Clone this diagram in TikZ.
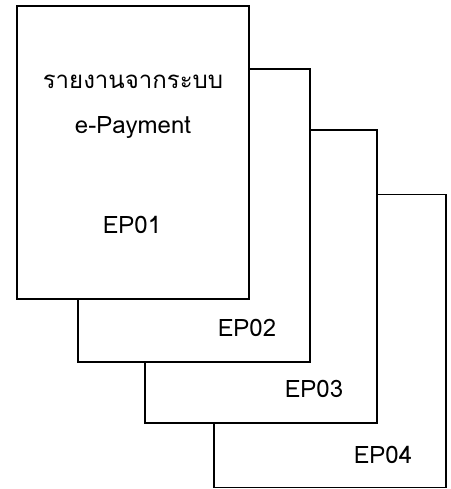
\documentclass[tikz,border=0pt]{standalone}
\usepackage{fontspec}
\setmainfont{Loma}[Script=Thai]
\usetikzlibrary{positioning}

\tikzset{
  page/.style={draw, fill=white, line width=1.8pt, minimum width=232pt,
    minimum height=293pt, inner sep=0pt},
  tag/.style={font=\fontsize{24}{28}\selectfont, inner sep=0pt}
}

\begin{document}
\begin{tikzpicture}[x=1pt, y=-1pt]
  \useasboundingbox (0,0) rectangle (450,489);

  % pages, back to front
  \node[page] (p4) at (330,341) {};
  \node[page] (p3) at (261,276.5) {};
  \node[page] (p2) at (194,215.5) {};
  \node[page] (p1) at (133,152.5) {};

  % labels
  \node[tag] (title) at (133,82) {รายงานจากระบบ};
  \node[tag] (sys) at (133,128) {e-Payment};
  \node[tag] (ep1) at (132,225) {EP01};
  \node[tag] (ep2) at (247,328) {EP02};
  \node[tag] (ep3) at (314,389) {EP03};
  \node[tag] (ep4) at (383,455) {EP04};
\end{tikzpicture}
\end{document}
